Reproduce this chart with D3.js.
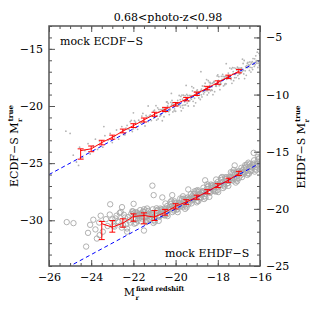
<!DOCTYPE html>
<html>
<head>
<meta charset="utf-8">
<script src="https://cdn.jsdelivr.net/npm/d3@7"></script>
<style>
body { margin: 0; background: #fff; }
text { font-family: "DejaVu Serif", serif; fill: #000; }
</style>
</head>
<body>
<div id="chart"></div>
<script>

// axis ticks / labels
var xMajor = [-26, -24, -22, -20, -18, -16]
var yLeftMajor = [-30, -25, -20, -15]
var yRightMajor = [-25, -20, -15, -10, -5]
var oneToOne = [-26, -16]

// binned medians + error bars, ECDF-S (left axis)
var ecdfBinX = [-24.5, -24, -23.5, -23, -22.5, -22, -21.5, -21, -20.5, -20, -19.5, -19, -18.5, -18, -17.5, -17]
var ecdfBinY = [-23.9, -23.75, -23.2, -22.74, -22.2, -21.72, -21.22, -20.72, -20.3, -19.85, -19.4, -18.92, -18.43, -17.95, -17.45, -16.95]
var ecdfErrLo = [-24.65, -24.0, -23.4, -22.9, -22.35, -21.88, -21.4, -20.9, -20.48, -20.0, -19.55, -19.08, -18.58, -18.1, -17.6, -17.1]
var ecdfErrHi = [-23.75, -23.5, -23.0, -22.55, -22.02, -21.55, -21.05, -20.55, -20.12, -19.7, -19.25, -18.78, -18.28, -17.8, -17.3, -16.8]

// binned medians + error bars, EHDF-S (right axis)
var ehdfBinX = [-23.5, -23, -22.5, -22, -21.5, -21, -20.5, -20, -19.5, -19, -18.5, -18, -17.5, -17]
var ehdfBinY = [-21.3, -21.6, -21.25, -20.67, -20.58, -20.72, -20.3, -19.77, -19.4, -18.98, -18.5, -17.97, -17.5, -16.9]
var ehdfErrLo = [-22.69, -22.04, -21.6, -21.08, -21.31, -21.02, -20.55, -20.0, -19.6, -19.16, -18.68, -18.14, -17.68, -17.08]
var ehdfErrHi = [-21.1, -21.02, -20.87, -20.44, -20.35, -20.15, -20.05, -19.55, -19.2, -18.8, -18.32, -17.8, -17.32, -16.72]

// mock ECDF-S galaxies (small dots, left axis)
var ecdfPts = [
[-24.85,-24.3],[-24.7,-24.9],[-24.55,-23.6],[-24.4,-24.5],[-24.3,-23.9],[-24.15,-23.3],[-24.05,-24.2],[-23.9,-23.5],[-23.8,-22.9],[-23.7,-23.8],
[-23.6,-23.1],[-23.45,-23.6],[-23.35,-22.6],[-23.2,-23.0],[-23.1,-22.4],[-23.0,-23.2],[-22.9,-22.7],[-22.8,-22.1],[-22.7,-22.9],[-22.6,-22.3],
[-22.55,-21.8],[-25.2,-22.2],[-25.0,-22.4],[-23.4,-21.8],[-22.0,-20.6],[-21.3,-20.0],[-24.6,-25.2],[-18.8,-17.0],[-19.5,-18.2],[-17.6,-16.3],[-20.2,-18.9],
[-22.5,-22.14],[-22.4,-22.52],[-22.3,-21.7],[-22.2,-22.02],[-22.1,-21.26],[-22.0,-22.0],[-21.9,-21.42],[-21.8,-22.04],[-21.7,-21.4],[-21.6,-20.88],
[-21.5,-21.41],[-21.4,-20.83],[-21.3,-21.36],[-21.2,-20.78],[-21.1,-20.86],[-21.0,-20.37],[-20.9,-21.23],[-20.8,-20.29],[-20.7,-20.82],[-20.6,-20.24],
[-20.5,-20.5],[-20.4,-19.65],[-20.3,-20.75],[-20.2,-19.96],[-20.1,-19.89],[-20.0,-20.46],[-19.9,-19.52],[-19.8,-19.91],[-19.7,-19.04],[-19.6,-19.92],
[-19.5,-19.26],[-19.4,-20.0],[-19.3,-19.27],[-19.2,-18.68],[-19.1,-19.32],[-19.0,-18.66],[-18.9,-19.29],[-18.8,-18.63],[-18.7,-18.74],[-18.6,-18.01],
[-18.5,-19.03],[-18.4,-17.95],[-18.3,-18.59],[-18.2,-17.93],[-18.1,-18.25],[-18.0,-17.27],[-17.9,-18.57],[-17.8,-17.67],[-17.7,-17.6],[-17.6,-18.06],
[-17.5,-17.12],[-17.4,-17.51],[-17.3,-16.64],[-17.2,-17.52],[-17.1,-16.86],[-17.0,-17.6],[-16.9,-16.87],[-16.8,-16.28],[-16.7,-16.92],[-16.6,-16.26],
[-16.5,-16.89],[-16.4,-16.23],[-16.3,-16.34],[-16.2,-15.61],[-16.1,-16.63],[-16.0,-15.55],
[-22.45,-22.51],[-22.35,-21.93],[-22.25,-22.01],[-22.15,-21.37],[-22.05,-22.23],[-21.95,-21.29],[-21.85,-21.82],[-21.75,-21.24],[-21.65,-21.5],[-21.55,-20.65],
[-21.45,-21.75],[-21.35,-20.96],[-21.25,-20.89],[-21.15,-21.27],[-21.05,-20.45],[-20.95,-20.92],[-20.85,-20.16],[-20.75,-20.9],[-20.65,-20.32],[-20.55,-20.94],
[-20.45,-20.3],[-20.35,-19.78],[-20.25,-20.31],[-20.15,-19.73],[-20.05,-20.26],[-19.95,-19.78],[-19.85,-19.89],[-19.75,-19.16],[-19.65,-20.18],[-19.55,-19.1],
[-19.45,-19.74],[-19.35,-19.08],[-19.25,-19.4],[-19.15,-18.42],[-19.05,-19.72],[-18.95,-18.82],[-18.85,-18.75],[-18.75,-19.21],[-18.65,-18.27],[-18.55,-18.66],
[-18.45,-17.79],[-18.35,-18.67],[-18.25,-18.01],[-18.15,-18.75],[-18.05,-18.02],[-17.95,-17.43],[-17.85,-18.07],[-17.75,-17.41],[-17.65,-18.04],[-17.55,-17.38],
[-17.45,-17.49],[-17.35,-16.76],[-17.25,-17.78],[-17.15,-16.7],[-17.05,-17.34],[-16.95,-16.68],[-16.85,-16.99],[-16.75,-16.02],[-16.65,-17.32],[-16.55,-16.42],
[-16.45,-16.35],[-16.35,-16.81],[-16.25,-15.87],[-16.15,-16.26],[-16.05,-15.39],[-15.95,-16.27],
[-20.47,-20.55],[-20.37,-20.05],[-20.27,-20.25],[-20.17,-19.52],[-20.07,-20.42],[-19.97,-19.87],[-19.87,-19.79],[-19.77,-20.09],[-19.67,-19.39],[-19.57,-19.64],
[-19.47,-18.99],[-19.37,-19.59],[-19.27,-19.09],[-19.17,-19.59],[-19.07,-19.04],[-18.97,-18.59],[-18.87,-19.02],[-18.77,-18.52],[-18.67,-18.94],[-18.57,-18.44],
[-18.47,-18.49],[-18.37,-17.94],[-18.27,-18.64],[-18.17,-17.84],[-18.07,-18.27],[-17.97,-17.77],[-17.87,-17.97],[-17.77,-17.24],[-17.67,-18.14],[-17.57,-17.47],
[-17.47,-17.39],[-17.37,-17.69],[-17.27,-16.99],[-17.17,-17.24],[-17.07,-16.59],[-16.97,-17.19],[-16.87,-16.69],[-16.77,-17.19],[-16.67,-16.64],[-16.57,-16.19],
[-16.47,-16.62],[-16.37,-16.12],[-16.27,-16.54],[-16.17,-16.04],[-16.07,-16.09],
[-21.03,-21.06],[-20.93,-19.97],[-20.83,-21.13],[-20.73,-20.31],[-20.63,-21.29],[-20.53,-20.38],[-20.43,-19.65],[-20.33,-20.5],[-20.23,-19.68],[-20.13,-20.52],
[-20.03,-19.7],[-19.93,-19.99],[-19.83,-19.08],[-19.73,-20.42],[-19.63,-19.06],[-19.53,-19.91],[-19.43,-19.09],[-19.33,-19.53],[-19.23,-18.3],[-19.13,-20.0],
[-19.03,-18.87],[-18.93,-18.81],[-18.83,-19.43],[-18.73,-18.25],[-18.63,-18.78],[-18.53,-17.69],[-18.43,-18.85],[-18.33,-18.03],[-18.23,-19.01],[-18.13,-18.1],
[-18.03,-17.37],[-17.93,-18.22],[-17.83,-17.4],[-17.73,-18.24],[-17.63,-17.42],[-17.53,-17.59],[-17.43,-16.68],[-17.33,-18.02],[-17.23,-16.66],[-17.13,-17.51],
[-17.03,-16.69],[-16.93,-17.13],[-16.83,-15.9],[-16.73,-17.6],[-16.63,-16.47],[-16.53,-16.41],[-16.43,-17.03],[-16.33,-15.85],[-16.23,-16.38],[-16.13,-15.29],[-16.03,-16.45],
[-20.98,-20.62],[-20.88,-20.84],[-20.78,-20.5],[-20.68,-20.71],[-20.58,-20.37],[-20.48,-20.36],[-20.38,-19.99],[-20.28,-20.37],[-20.18,-19.85],[-20.08,-20.07],
[-19.98,-19.85],[-19.88,-19.93],[-19.78,-19.45],[-19.68,-19.95],[-19.58,-19.51],[-19.48,-19.42],[-19.38,-19.56],[-19.28,-19.1],[-19.18,-19.21],[-19.08,-18.78],
[-18.98,-19.1],[-18.88,-18.76],[-18.78,-19.02],[-18.68,-18.65],[-18.58,-18.52],[-18.48,-18.66],[-18.38,-18.2],[-18.28,-18.31],[-18.18,-17.88],[-18.08,-18.2],
[-17.98,-17.86],[-17.88,-18.12],[-17.78,-17.75],[-17.68,-17.44],[-17.58,-17.66],[-17.48,-17.32],[-17.38,-17.53],[-17.28,-17.19],[-17.18,-17.18],[-17.08,-16.81],
[-16.98,-17.19],[-16.88,-16.67],[-16.78,-16.89],[-16.68,-16.55],[-16.58,-16.63],[-16.48,-16.15],[-16.38,-16.65],[-16.28,-16.21],[-16.18,-16.12],[-16.08,-16.26]
]

// mock EHDF-S galaxies (open circles, right axis)
var ehdfPts = [
[-25.16,-21.16],[-24.84,-21.25],[-24.24,-23.3],[-23.73,-22.6],[-24.05,-21.4],[-23.9,-20.95],[-23.8,-21.8],[-23.62,-21.2],[-23.55,-20.6],[-23.45,-22.0],
[-23.3,-20.9],[-23.22,-21.5],[-23.12,-20.5],[-23.6,-22.3],[-24.15,-22.1],[-23.1,-19.6],
[-22.54,-19.85],[-21.99,-19.56],[-21.04,-18.8],[-20.63,-19.0],[-20.16,-18.8],[-21.1,-17.97],[-22.3,-22.0],[-21.5,-21.9],[-19.4,-18.3],[-18.6,-17.5],[-17.2,-16.2],[-16.3,-15.1],
[-23.0,-20.92],[-22.9,-21.56],[-22.8,-20.6],[-22.7,-21.16],[-22.6,-20.28],[-22.5,-21.4],[-22.4,-20.76],[-22.3,-21.72],[-22.2,-21.0],[-22.1,-20.44],
[-22.0,-20.85],[-21.9,-20.29],[-21.8,-21.02],[-21.7,-20.46],[-21.6,-20.67],[-21.5,-20.04],[-21.4,-21.16],[-21.3,-20.18],[-21.2,-20.92],[-21.1,-20.36],
[-21.0,-20.8],[-20.9,-19.95],[-20.8,-21.05],[-20.7,-20.26],[-20.6,-20.19],[-20.5,-20.57],[-20.4,-19.75],[-20.3,-20.07],[-20.2,-19.31],[-20.1,-20.05],
[-20.0,-19.67],[-19.9,-20.29],[-19.8,-19.65],[-19.7,-19.13],[-19.6,-19.66],[-19.5,-19.08],[-19.4,-19.61],[-19.3,-19.03],[-19.2,-19.11],[-19.1,-18.47],
[-19.0,-19.43],[-18.9,-18.49],[-18.8,-19.02],[-18.7,-18.44],[-18.6,-18.7],[-18.5,-17.85],[-18.4,-18.95],[-18.3,-18.16],[-18.2,-18.09],[-18.1,-18.47],
[-18.0,-17.65],[-17.9,-17.97],[-17.8,-17.21],[-17.7,-17.95],[-17.6,-17.37],[-17.5,-17.99],[-17.4,-17.35],[-17.3,-16.83],[-17.2,-17.36],[-17.1,-16.78],
[-17.0,-17.31],[-16.9,-16.73],[-16.8,-16.81],[-16.7,-16.17],[-16.6,-17.03],[-16.5,-16.09],[-16.4,-16.62],[-16.3,-16.04],[-16.2,-16.3],[-16.1,-15.45],[-16.0,-16.55],
[-22.95,-21.48],[-22.85,-20.84],[-22.75,-21.08],[-22.65,-20.36],[-22.55,-21.64],[-22.45,-20.52],[-22.35,-21.36],[-22.25,-20.72],[-22.15,-21.2],[-22.05,-20.2],
[-21.95,-21.3],[-21.85,-20.5],[-21.75,-20.53],[-21.65,-21.09],[-21.55,-20.25],[-21.45,-20.74],[-21.35,-19.97],[-21.25,-20.95],[-21.15,-20.39],[-21.05,-21.23],
[-20.95,-20.6],[-20.85,-20.08],[-20.75,-20.61],[-20.65,-20.03],[-20.55,-20.56],[-20.45,-19.98],[-20.35,-20.06],[-20.25,-19.42],[-20.15,-20.28],[-20.05,-19.34],
[-19.95,-20.07],[-19.85,-19.49],[-19.75,-19.75],[-19.65,-18.9],[-19.55,-20.0],[-19.45,-19.21],[-19.35,-19.14],[-19.25,-19.52],[-19.15,-18.7],[-19.05,-19.02],
[-18.95,-18.36],[-18.85,-19.1],[-18.75,-18.52],[-18.65,-19.14],[-18.55,-18.5],[-18.45,-17.98],[-18.35,-18.51],[-18.25,-17.93],[-18.15,-18.46],[-18.05,-17.88],
[-17.95,-17.96],[-17.85,-17.32],[-17.75,-18.18],[-17.65,-17.24],[-17.55,-17.77],[-17.45,-17.19],[-17.35,-17.45],[-17.25,-16.6],[-17.15,-17.7],[-17.05,-16.91],
[-16.95,-16.84],[-16.85,-17.22],[-16.75,-16.4],[-16.65,-16.72],[-16.55,-15.96],[-16.45,-16.7],[-16.35,-16.12],[-16.25,-16.74],[-16.15,-16.1],[-16.05,-15.58],
[-21.98,-20.39],[-21.88,-21.23],[-21.78,-20.6],[-21.68,-20.11],[-21.58,-20.85],[-21.48,-20.29],[-21.38,-21.02],[-21.28,-20.46],[-21.18,-20.67],[-21.08,-20.04],
[-20.98,-21.11],[-20.88,-20.17],[-20.78,-20.7],[-20.68,-20.12],[-20.58,-20.38],[-20.48,-19.53],[-20.38,-20.63],[-20.28,-19.84],[-20.18,-19.77],[-20.08,-20.15],
[-19.98,-19.53],[-19.88,-19.85],[-19.78,-19.09],[-19.68,-19.83],[-19.58,-19.25],[-19.48,-19.87],[-19.38,-19.23],[-19.28,-18.71],[-19.18,-19.24],[-19.08,-18.66],
[-18.98,-19.29],[-18.88,-18.71],[-18.78,-18.79],[-18.68,-18.15],[-18.58,-19.01],[-18.48,-18.07],[-18.38,-18.6],[-18.28,-18.02],[-18.18,-18.28],[-18.08,-17.43],
[-17.98,-18.53],[-17.88,-17.74],[-17.78,-17.67],[-17.68,-18.05],[-17.58,-17.23],[-17.48,-17.55],[-17.38,-16.79],[-17.28,-17.53],[-17.18,-16.95],[-17.08,-17.57],
[-16.98,-16.93],[-16.88,-16.41],[-16.78,-16.94],[-16.68,-16.36],[-16.58,-16.89],[-16.48,-16.31],[-16.38,-16.39],[-16.28,-15.75],[-16.18,-16.61],[-16.08,-15.67],
[-22.02,-20.24],[-21.92,-20.96],[-21.82,-20.33],[-21.72,-20.8],[-21.62,-20.44],[-21.52,-20.71],[-21.42,-20.15],[-21.32,-21.05],[-21.22,-20.53],[-21.12,-20.56],
[-21.02,-20.99],[-20.92,-20.35],[-20.82,-20.56],[-20.72,-19.97],[-20.62,-20.5],[-20.52,-20.04],[-20.42,-20.48],[-20.32,-19.97],[-20.22,-19.56],[-20.12,-19.93],
[-20.02,-19.47],[-19.92,-20.04],[-19.82,-19.58],[-19.72,-19.62],[-19.62,-19.11],[-19.52,-19.73],[-19.42,-19.0],[-19.32,-19.37],[-19.22,-18.91],[-19.12,-19.08],
[-19.02,-18.42],[-18.92,-19.32],[-18.82,-18.7],[-18.72,-18.63],[-18.62,-18.89],[-18.52,-18.25],[-18.42,-18.46],[-18.32,-17.87],[-18.22,-18.4],[-18.12,-17.94],
[-18.02,-18.38],[-17.92,-17.87],[-17.82,-17.46],[-17.72,-17.83],[-17.62,-17.37],[-17.52,-17.74],[-17.42,-17.28],[-17.32,-17.32],[-17.22,-16.81],[-17.12,-17.43],
[-17.02,-16.7],[-16.92,-17.07],[-16.82,-16.61],[-16.72,-16.78],[-16.62,-16.12],[-16.52,-16.92],[-16.42,-16.3],[-16.32,-16.23],[-16.22,-16.49],[-16.12,-15.85],[-16.02,-16.06]
]

var width = 316, height = 316
var plot = {left: 49, right: 260, top: 26, bottom: 266}
var frameColor = '#555'

var svg = d3.select('#chart')
    .append('svg')
        .attr('width', width)
        .attr('height', height)

// scales: both y axes share the same mag/pixel, offset by 9 mag
var x = d3.scaleLinear().domain([-26, -16]).range([plot.left, plot.right])
var yL = d3.scaleLinear().domain([-34, -13]).range([plot.bottom, plot.top])
var yR = d3.scaleLinear().domain([-25, -4]).range([plot.bottom, plot.top])

svg.append('defs').append('clipPath')
    .attr('id', 'clip')
    .append('rect')
        .attr('x', plot.left)
        .attr('y', plot.top)
        .attr('width', plot.right - plot.left)
        .attr('height', plot.bottom - plot.top)

var g = svg.append('g').attr('clip-path', 'url(#clip)')

// scatter clouds
g.append('g')
    .selectAll('circle')
    .data(ecdfPts)
    .enter()
    .append('circle')
    .attr('cx', function(d) { return x(d[0]) })
    .attr('cy', function(d) { return yL(d[1]) })
    .attr('r', 0.9)
    .style('fill', '#b4b4b4')

g.append('g')
    .selectAll('circle')
    .data(ehdfPts)
    .enter()
    .append('circle')
    .attr('cx', function(d) { return x(d[0]) })
    .attr('cy', function(d) { return yR(d[1]) })
    .attr('r', 2.7)
    .style('fill', 'none')
    .style('stroke', '#a8a8a8')
    .style('stroke-width', 0.9)

// one-to-one lines
var lineL = d3.line().x(function(d) { return x(d) }).y(function(d) { return yL(d) })
var lineR = d3.line().x(function(d) { return x(d) }).y(function(d) { return yR(d) })

g.append('path')
    .attr('d', lineL(oneToOne))
    .style('fill', 'none')
    .style('stroke', '#0000ff')
    .style('stroke-width', 1)
    .style('stroke-dasharray', '4,3')

g.append('path')
    .attr('d', lineR(oneToOne))
    .style('fill', 'none')
    .style('stroke', '#0000ff')
    .style('stroke-width', 1)
    .style('stroke-dasharray', '4,3')

// red medians with error bars
function drawBins(bx, by, lo, hi, yScale) {
    var rows = bx.map(function(v, i) {
        return {x: v, y: by[i], lo: lo[i], hi: hi[i]}
    })
    var grp = g.append('g')
        .style('stroke', '#ff0000')
        .style('fill', 'none')
        .style('stroke-width', 1)

    grp.append('path')
        .attr('d', d3.line()
            .x(function(d) { return x(d.x) })
            .y(function(d) { return yScale(d.y) })(rows))

    var bar = grp.selectAll('g.bar')
        .data(rows)
        .enter()
        .append('g')
        .attr('class', 'bar')
    bar.append('line')
        .attr('x1', function(d) { return x(d.x) })
        .attr('x2', function(d) { return x(d.x) })
        .attr('y1', function(d) { return yScale(d.lo) })
        .attr('y2', function(d) { return yScale(d.hi) })
    bar.append('line')
        .attr('x1', function(d) { return x(d.x) - 3 })
        .attr('x2', function(d) { return x(d.x) + 3 })
        .attr('y1', function(d) { return yScale(d.lo) })
        .attr('y2', function(d) { return yScale(d.lo) })
    bar.append('line')
        .attr('x1', function(d) { return x(d.x) - 3 })
        .attr('x2', function(d) { return x(d.x) + 3 })
        .attr('y1', function(d) { return yScale(d.hi) })
        .attr('y2', function(d) { return yScale(d.hi) })
}

drawBins(ehdfBinX, ehdfBinY, ehdfErrLo, ehdfErrHi, yR)
drawBins(ecdfBinX, ecdfBinY, ecdfErrLo, ecdfErrHi, yL)

// axes, ticks pointing inwards
function styleAxis(sel) {
    sel.select('.domain').remove()
    sel.selectAll('line').style('stroke', frameColor).style('stroke-width', 1)
    sel.selectAll('text')
        .style('font-family', '"DejaVu Serif", serif')
        .style('font-size', '11px')
        .style('fill', '#000')
}

var fmt = d3.format('d')
var noLab = function() { return '' }

svg.append('g').attr('transform', 'translate(0,' + plot.bottom + ')')
    .call(d3.axisBottom(x).tickValues(d3.range(-26, -15.9, 0.5)).tickSize(-3).tickFormat(noLab)).call(styleAxis)
svg.append('g').attr('transform', 'translate(0,' + plot.bottom + ')')
    .call(d3.axisBottom(x).tickValues(xMajor).tickSize(-6).tickPadding(7).tickFormat(fmt)).call(styleAxis)
svg.append('g').attr('transform', 'translate(0,' + plot.top + ')')
    .call(d3.axisTop(x).tickValues(d3.range(-26, -15.9, 0.5)).tickSize(-3).tickFormat(noLab)).call(styleAxis)
svg.append('g').attr('transform', 'translate(0,' + plot.top + ')')
    .call(d3.axisTop(x).tickValues(xMajor).tickSize(-6).tickFormat(noLab)).call(styleAxis)

svg.append('g').attr('transform', 'translate(' + plot.left + ',0)')
    .call(d3.axisLeft(yL).tickValues(d3.range(-34, -12.9, 1)).tickSize(-3).tickFormat(noLab)).call(styleAxis)
svg.append('g').attr('transform', 'translate(' + plot.left + ',0)')
    .call(d3.axisLeft(yL).tickValues(yLeftMajor).tickSize(-6).tickPadding(6).tickFormat(fmt)).call(styleAxis)
svg.append('g').attr('transform', 'translate(' + plot.right + ',0)')
    .call(d3.axisRight(yR).tickValues(d3.range(-25, -3.9, 1)).tickSize(-3).tickFormat(noLab)).call(styleAxis)
svg.append('g').attr('transform', 'translate(' + plot.right + ',0)')
    .call(d3.axisRight(yR).tickValues(yRightMajor).tickSize(-6).tickPadding(6).tickFormat(fmt)).call(styleAxis)

// frame
svg.append('rect')
    .attr('x', plot.left)
    .attr('y', plot.top)
    .attr('width', plot.right - plot.left)
    .attr('height', plot.bottom - plot.top)
    .style('fill', 'none')
    .style('stroke', frameColor)
    .style('stroke-width', 1.5)

// title and panel labels
svg.append('text')
    .attr('x', 168).attr('y', 21)
    .attr('text-anchor', 'middle')
    .style('font-size', '11px')
    .text('0.68<photo-z<0.98')

svg.append('text')
    .attr('x', 60).attr('y', 45)
    .style('font-size', '11px')
    .text('mock ECDF\u2212S')

svg.append('text')
    .attr('x', 165).attr('y', 257)
    .style('font-size', '11px')
    .text('mock EHDF\u2212S')

// axis titles: M with stacked super/subscript
function magLabel(parent, prefix, sup, supSize) {
    var main = parent.append('text')
        .style('font-size', '11px')
        .text(prefix + 'M')
    var mainLen = main.node().getComputedTextLength()
    var s = parent.append('text')
        .attr('y', -5)
        .style('font-size', supSize + 'px')
        .style('font-weight', 'bold')
        .text(sup)
    var supLen = s.node().getComputedTextLength()
    var sub = parent.append('text')
        .attr('y', 3.5)
        .style('font-size', '6.5px')
        .style('font-weight', 'bold')
        .text('r')
    var start = -(mainLen + supLen + 1) / 2
    main.attr('x', start)
    s.attr('x', start + mainLen + 1)
    sub.attr('x', start + mainLen + 0.5)
}

magLabel(svg.append('g').attr('transform', 'translate(18,146) rotate(-90)'), 'ECDF\u2212S  ', 'true', 7)
magLabel(svg.append('g').attr('transform', 'translate(305,147) rotate(-90)'), 'EHDF\u2212S  ', 'true', 7)
magLabel(svg.append('g').attr('transform', 'translate(154,296)'), '', 'fixed redshift', 6.5)

</script>
</body>
</html>
